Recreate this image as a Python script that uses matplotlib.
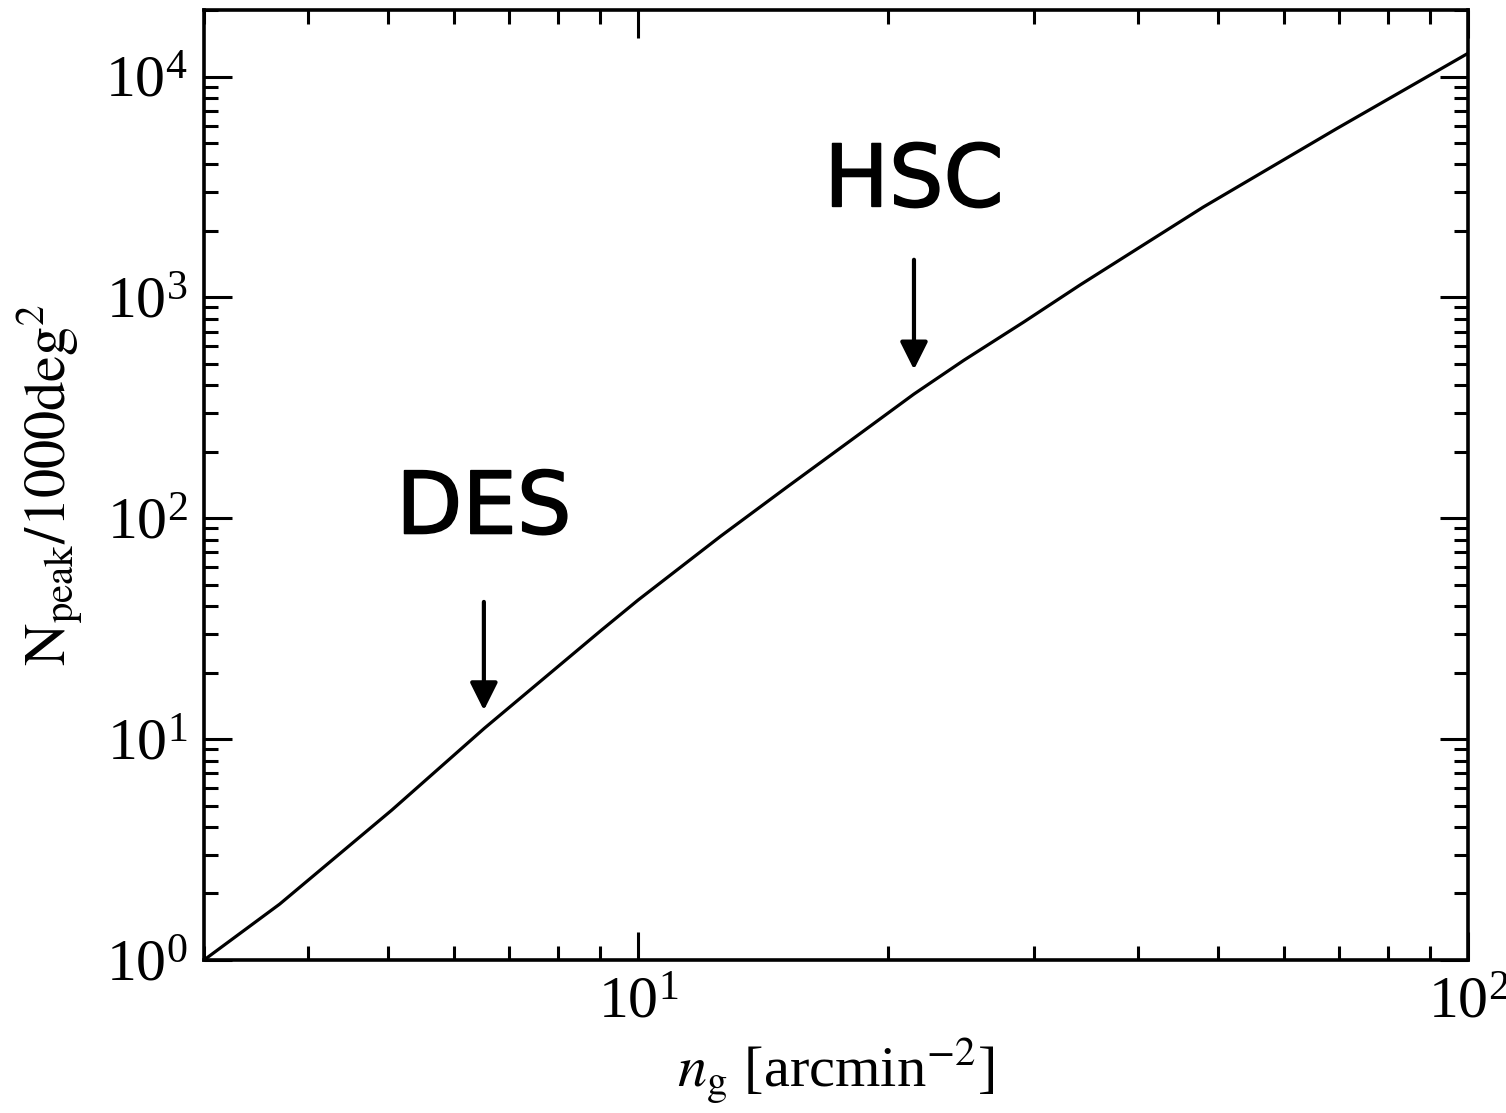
import numpy as np
import matplotlib
matplotlib.use('Agg')
import matplotlib.pyplot as plt
import matplotlib.patheffects as pe

plt.rcParams['font.family'] = 'serif'
plt.rcParams['font.serif'] = ['Liberation Serif', 'DejaVu Serif']
plt.rcParams['mathtext.fontset'] = 'stix'

# galaxy number density vs. number of peaks
n_g = [3.0, 3.70, 5.05, 6.53, 9.03, 10.0, 12.58, 15.14, 18.04, 21.5,
       24.69, 29.15, 34.11, 47.97, 69.4, 100.0]
n_peak = [1.0, 1.79, 4.77, 11.2, 31.1, 42.6, 83, 139, 225, 365,
          519, 773, 1140, 2563, 5796, 12740]

# survey markers
surveys = ['DES', 'HSC']
survey_x = [6.52, 21.5]
arrow_top = [41.8, 1480]
arrow_tip = [13.5, 471]
label_y = [109, 3300]

fig = plt.figure(figsize=(15.06, 11.13), dpi=100)
ax = fig.add_axes([0.1355, 0.1375, 0.8393, 0.8535])

ax.plot(n_g, n_peak, color='k', lw=2.3)

ax.set_xscale('log')
ax.set_yscale('log')
ax.set_xlim(3, 100)
ax.set_ylim(1, 2e4)

for i, name in enumerate(surveys):
    ax.annotate('', xy=(survey_x[i], arrow_tip[i]), xytext=(survey_x[i], arrow_top[i]),
                arrowprops=dict(arrowstyle='-|>', color='k', lw=3, mutation_scale=42,
                                shrinkA=0, shrinkB=0))
    ax.text(survey_x[i], label_y[i], name, ha='center', va='center',
            fontsize=62, family='DejaVu Sans',
            path_effects=[pe.withStroke(linewidth=1.2, foreground='k')])

for s in ax.spines.values():
    s.set_linewidth(2.6)
ax.tick_params(which='both', direction='in', top=True, right=True, width=2.2, labelsize=43)
ax.tick_params(which='major', length=20, pad=12)
ax.tick_params(which='minor', length=10)

ax.set_xlabel(r'$n_{\rm g}$ [arcmin$^{-2}$]', fontsize=42, labelpad=4)
ax.set_ylabel(r'$\rm N_{peak}/1000deg^2$', fontsize=42, labelpad=14)

fig.savefig('out.png', dpi=100)
